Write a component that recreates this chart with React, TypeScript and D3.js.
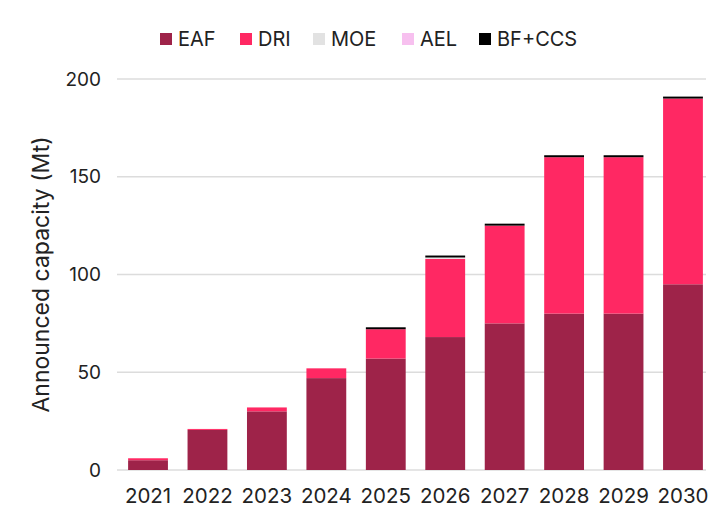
import React from "react";
import * as d3 from "d3";

const years = ["2021", "2022", "2023", "2024", "2025", "2026", "2027", "2028", "2029", "2030"];
const seriesNames = ["EAF", "DRI", "MOE", "AEL", "BF+CCS"];
const eaf = [5, 20.5, 30, 47, 57, 68, 75, 80, 80, 95];
const dri = [1, 0.5, 2, 5, 15, 40, 50, 80, 80, 95];
const moe = [0, 0, 0, 0, 0, 0.7, 0, 0, 0, 0];
const ael = [0, 0, 0, 0, 0, 0, 0, 0, 0, 0];
const bfccs = [0, 0, 0, 0, 1, 1, 1, 1, 1, 1];
const yTicks = [0, 50, 100, 150, 200];
const colors = ["#9e2349", "#ff2863", "#e2e2e2", "#f7c0ef", "#000000"];

export default function App() {
  const W = 712, H = 509;
  const left = 117, right = 706, top = 79, bottom = 470;
  const x = d3.scaleBand().domain(years).range([left + 1, right + 7]).paddingInner(0.33).paddingOuter(0.17);
  const y = d3.scaleLinear().domain([0, 200]).range([bottom, top]);
  const rows = years.map((yr, i) => ({ year: yr, EAF: eaf[i], DRI: dri[i], MOE: moe[i], AEL: ael[i], "BF+CCS": bfccs[i] }));
  const stacked = d3.stack<any>().keys(seriesNames)(rows);
  const font = "Inter, 'Noto Sans', sans-serif";
  const legendX = [160, 240, 313, 402, 479];
  return (
    <svg width={W} height={H} style={{ position: "absolute", left: 0, top: 0, background: "#fff" }}>
      {yTicks.map((t) => (
        <g key={t}>
          <line x1={left} x2={right} y1={y(t)} y2={y(t)} stroke="#dcdcdc" strokeWidth={1.5} />
          <text x={101} y={y(t)} dy="0.35em" textAnchor="end" fontSize={19} fontFamily={font} fill="#222">{t}</text>
        </g>
      ))}
      {stacked.map((s, si) => (
        <g key={s.key} fill={colors[si]}>
          {s.map((d, i) => {
            const h = y(d[0]) - y(d[1]);
            if (h <= 0) return null;
            return <rect key={i} x={x(years[i])} width={x.bandwidth()} y={y(d[1])} height={h} />;
          })}
        </g>
      ))}
      {years.map((yr) => (
        <text key={yr} x={(x(yr) as number) + x.bandwidth() / 2} y={503} textAnchor="middle" fontSize={20.5} fontFamily={font} fill="#222">{yr}</text>
      ))}
      <text transform={`translate(49,${(top + bottom) / 2}) rotate(-90)`} textAnchor="middle" fontSize={23} fontFamily={font} fill="#222">Announced capacity (Mt)</text>
      {seriesNames.map((n, i) => (
        <g key={n}>
          <rect x={legendX[i]} y={33} width={12} height={12} fill={colors[i]} />
          <text x={legendX[i] + 18} y={39} dy="0.36em" fontSize={20} fontFamily={font} fill="#222">{n}</text>
        </g>
      ))}
    </svg>
  );
}
